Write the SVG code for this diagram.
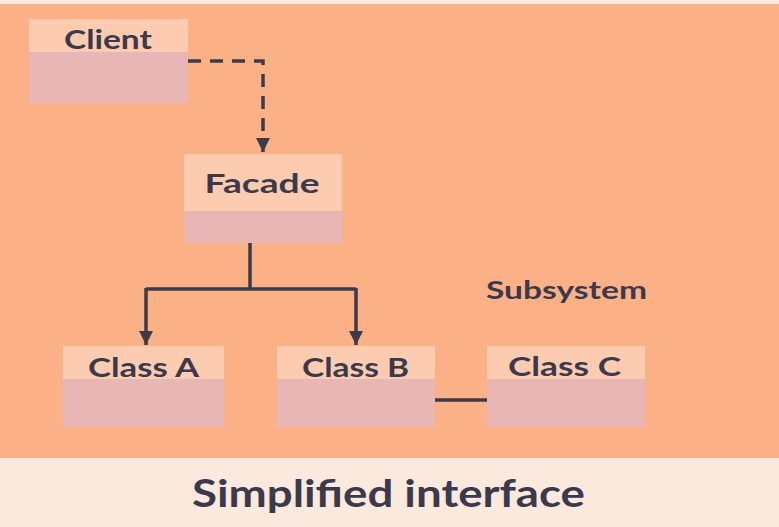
<svg xmlns="http://www.w3.org/2000/svg" width="779" height="527" viewBox="0 0 779 527">
<defs>
<style>
.hdr{fill:#fdcbb0}
.body{fill:#e8b6b4}
.lbl{font-family:"Lato","DejaVu Sans",sans-serif;font-weight:bold;fill:#3b3a4c}
.conn{stroke:#3d3b4b;stroke-width:3.5;fill:none}
</style>
<marker id="arr" viewBox="0 0 10 10" refX="10" refY="5" markerWidth="4" markerHeight="4" markerUnits="strokeWidth" orient="auto">
<path d="M0,0 L10,5 L0,10 z" fill="#3d3b4b"/>
</marker>
</defs>
<rect x="0" y="0" width="779" height="527" fill="#fbe9dd"/>
<rect x="0" y="4" width="779" height="454" fill="#fbb086"/>
<g id="connectors">
<path class="conn" d="M188,61 H263 V152" stroke-dasharray="13,9" marker-end="url(#arr)"/>
<path class="conn" d="M250,243 V289 M146,289 H356"/>
<path class="conn" d="M146,288 V345" marker-end="url(#arr)"/>
<path class="conn" d="M356,288 V345" marker-end="url(#arr)"/>
<path class="conn" d="M435,400 H487" stroke="#4a3a40"/>
</g>
<g id="client">
<rect class="body" x="29" y="52" width="159" height="51"/>
<rect class="hdr" x="29" y="19" width="159" height="33"/>
<text class="lbl" x="108" y="49" font-size="26" text-anchor="middle" textLength="88" lengthAdjust="spacingAndGlyphs">Client</text>
</g>
<g id="facade">
<rect class="body" x="184" y="211" width="158" height="32"/>
<rect class="hdr" x="184" y="154" width="158" height="57"/>
<text class="lbl" x="262" y="193" font-size="26" text-anchor="middle" textLength="115" lengthAdjust="spacingAndGlyphs">Facade</text>
</g>
<g id="classA">
<rect class="body" x="63" y="379" width="161" height="48"/>
<rect class="hdr" x="63" y="346" width="161" height="33"/>
<text class="lbl" x="143.5" y="377" font-size="26" text-anchor="middle" textLength="111" lengthAdjust="spacingAndGlyphs">Class A</text>
</g>
<g id="classB">
<rect class="body" x="277" y="379" width="158" height="48"/>
<rect class="hdr" x="277" y="346" width="158" height="33"/>
<text class="lbl" x="355.5" y="377" font-size="26" text-anchor="middle" textLength="107" lengthAdjust="spacingAndGlyphs">Class B</text>
</g>
<g id="classC">
<rect class="body" x="487" y="379" width="158" height="48"/>
<rect class="hdr" x="487" y="346" width="158" height="33"/>
<text class="lbl" x="564.5" y="376" font-size="26" text-anchor="middle" textLength="113" lengthAdjust="spacingAndGlyphs">Class C</text>
</g>
<g id="subsystem">
<text class="lbl" x="486" y="299" font-size="24" textLength="161" lengthAdjust="spacingAndGlyphs">Subsystem</text>
</g>
<g id="caption">
<text class="lbl" x="192" y="507" font-size="38" textLength="393" lengthAdjust="spacingAndGlyphs">Simplified interface</text>
</g>
</svg>
